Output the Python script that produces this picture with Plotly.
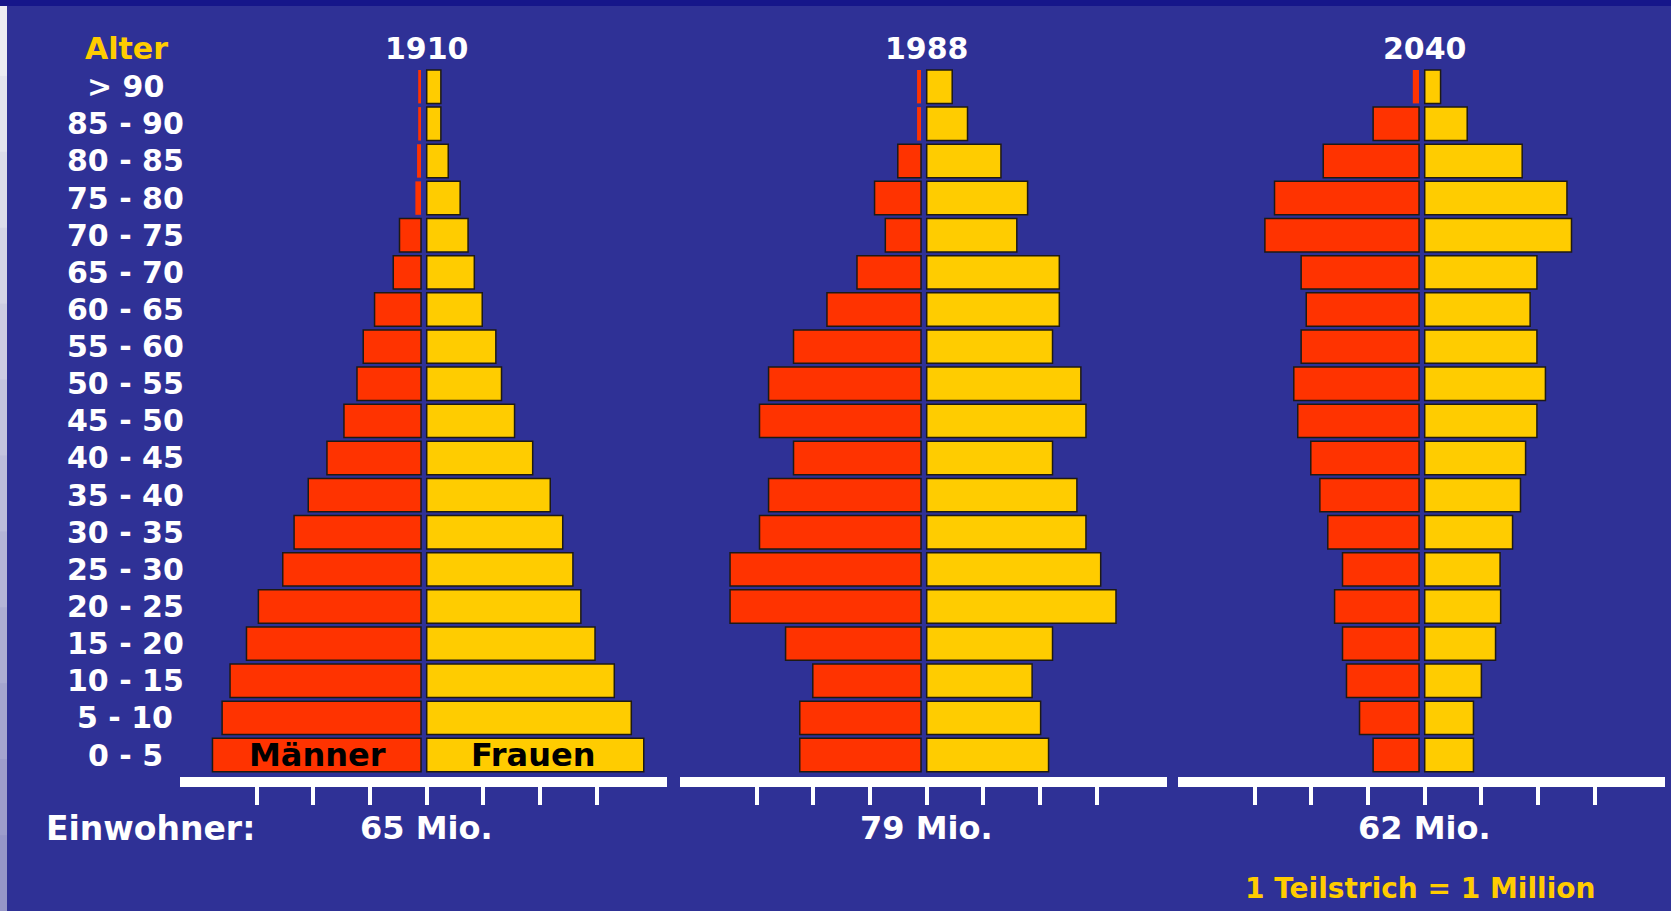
import plotly.graph_objects as go

# ---------------- data (millions of people, bottom row first) ----------------
age_groups = ["0 - 5", "5 - 10", "10 - 15", "15 - 20", "20 - 25", "25 - 30",
              "30 - 35", "35 - 40", "40 - 45", "45 - 50", "50 - 55", "55 - 60",
              "60 - 65", "65 - 70", "70 - 75", "75 - 80", "80 - 85", "85 - 90", "> 90"]

years = ["1910", "1988", "2040"]
population_labels = ["65 Mio.", "79 Mio.", "62 Mio."]

men_1910 = [3.68, 3.51, 3.37, 3.08, 2.87, 2.44, 2.24, 1.99, 1.66, 1.36,
            1.13, 1.02, 0.82, 0.49, 0.38, 0.10, 0.07, 0.05, 0.05]
women_1910 = [3.83, 3.61, 3.31, 2.97, 2.72, 2.58, 2.40, 2.18, 1.87, 1.55,
              1.32, 1.22, 0.98, 0.84, 0.73, 0.59, 0.38, 0.25, 0.25]

men_1988 = [2.14, 2.14, 1.91, 2.39, 3.37, 3.37, 2.85, 2.69, 2.25, 2.85,
            2.69, 2.25, 1.66, 1.13, 0.63, 0.82, 0.41, 0.07, 0.07]
women_1988 = [2.15, 2.01, 1.86, 2.22, 3.34, 3.07, 2.81, 2.65, 2.22, 2.81,
              2.72, 2.22, 2.34, 2.34, 1.59, 1.78, 1.31, 0.72, 0.45]

men_2040 = [0.81, 1.05, 1.28, 1.35, 1.49, 1.35, 1.61, 1.75, 1.91, 2.14,
            2.21, 2.08, 1.99, 2.08, 2.72, 2.55, 1.69, 0.81, 0.11]
women_2040 = [0.86, 0.86, 1.00, 1.25, 1.34, 1.33, 1.55, 1.69, 1.78, 1.98,
              2.13, 1.98, 1.86, 1.98, 2.59, 2.51, 1.72, 0.75, 0.28]

tick_values = [-3, -2, -1, 0, 1, 2, 3]   # 1 Teilstrich = 1 Million

men = [men_1910, men_1988, men_2040]
women = [women_1910, women_1988, women_2040]

# ---------------- styling ----------------
W, H = 1671, 911
BG = "#2F3196"
RED = "#FF3300"
YELLOW = "#FFCC00"
OUTLINE = "#1E1A14"
FONT = "DejaVu Sans"

x_domains = [[180 / W, 667 / W], [680 / W, 1167 / W], [1178 / W, 1665 / W]]
x_range = [-4.353, 4.24]
y_domain = [1 - 777 / H, 1 - 60 / H]
y_range = [-0.5925, 18.719]
male_gap = 0.1

fig = go.Figure()

for i in range(3):
    xa = "x" if i == 0 else f"x{i+1}"
    ya = "y" if i == 0 else f"y{i+1}"
    m_vals = men[i]
    w_vals = women[i]
    fig.add_trace(go.Bar(
        y=age_groups, x=[-v for v in m_vals], base=-male_gap, orientation="h",
        width=0.9, xaxis=xa, yaxis=ya,
        marker=dict(color=RED,
                    line=dict(color=OUTLINE,
                              width=[0 if v < 0.2 else 1.5 for v in m_vals])),
        showlegend=False, hoverinfo="skip"))
    fig.add_trace(go.Bar(
        y=age_groups, x=w_vals, base=0, orientation="h",
        width=0.9, xaxis=xa, yaxis=ya,
        marker=dict(color=YELLOW,
                    line=dict(color=OUTLINE,
                              width=[0 if v < 0.2 else 1.5 for v in w_vals])),
        showlegend=False, hoverinfo="skip"))

layout = dict(
    width=W, height=H, autosize=False,
    margin=dict(l=0, r=0, t=0, b=0, pad=0),
    paper_bgcolor=BG, plot_bgcolor="rgba(0,0,0,0)",
    barmode="overlay",
    showlegend=False,
)

for i in range(3):
    xkey = "xaxis" if i == 0 else f"xaxis{i+1}"
    ykey = "yaxis" if i == 0 else f"yaxis{i+1}"
    yid = "y" if i == 0 else f"y{i+1}"
    xid = "x" if i == 0 else f"x{i+1}"
    layout[xkey] = dict(
        domain=x_domains[i], range=x_range, anchor=yid,
        showline=True, linecolor="white", linewidth=10,
        ticks="outside", tickvals=tick_values, ticklen=18, tickwidth=4,
        tickcolor="white", showticklabels=False,
        showgrid=False, zeroline=False, fixedrange=True)
    layout[ykey] = dict(
        domain=y_domain, range=y_range, anchor=xid,
        type="category", categoryorder="array", categoryarray=age_groups,
        showticklabels=False, showgrid=False, zeroline=False,
        showline=False, ticks="", fixedrange=True)

fig.update_layout(**layout)

# ---------------- texts ----------------
white_font = dict(family=FONT, size=30, color="white", weight="bold")
yellow_font = dict(family=FONT, size=30, color=YELLOW, weight="bold")

ann = []
ann.append(dict(text="Alter", xref="paper", yref="paper", x=126 / W, y=1 - 48 / H,
                xanchor="center", yanchor="middle", showarrow=False, font=yellow_font))
for g in age_groups:
    ann.append(dict(text=g, xref="paper", yref="y", x=125 / W, y=g,
                    xanchor="center", yanchor="middle", showarrow=False, font=white_font))

centers = [426.7, 926.7, 1424.7]
for i in range(3):
    ann.append(dict(text=years[i], xref="paper", yref="paper", x=centers[i] / W,
                    y=1 - 48 / H, xanchor="center", yanchor="middle",
                    showarrow=False, font=white_font))
    ann.append(dict(text=population_labels[i], xref="paper", yref="paper",
                    x=centers[i] / W, y=1 - 828 / H, xanchor="center",
                    yanchor="middle", showarrow=False,
                    font=dict(family=FONT, size=32, color="white", weight="bold")))

ann.append(dict(text="Einwohner:", xref="paper", yref="paper", x=150 / W, y=1 - 828 / H,
                xanchor="center", yanchor="middle", showarrow=False,
                font=dict(family=FONT, size=33, color="white", weight="bold")))
ann.append(dict(text="1 Teilstrich = 1 Million", xref="paper", yref="paper",
                x=1420 / W, y=1 - 888 / H, xanchor="center", yanchor="middle",
                showarrow=False,
                font=dict(family=FONT, size=28, color=YELLOW, weight="bold")))

ann.append(dict(text="Männer", xref="x", yref="y", x=-1.93, y=age_groups[0],
                xanchor="center", yanchor="middle", showarrow=False,
                font=dict(family=FONT, size=32, color="black", weight="bold")))
ann.append(dict(text="Frauen", xref="x", yref="y", x=1.88, y=age_groups[0],
                xanchor="center", yanchor="middle", showarrow=False,
                font=dict(family=FONT, size=32, color="black", weight="bold")))

fig.update_layout(annotations=ann)

# ---------------- decorative frame (top band, left gradient strip) ----------------
shapes = []
n = 12
for k in range(n):
    t = k / (n - 1)
    r = int(236 - t * (236 - 150))
    g = int(236 - t * (236 - 150))
    b = int(242 - t * (242 - 200))
    shapes.append(dict(type="rect", xref="paper", yref="paper",
                       x0=0, x1=7 / W, y0=max(0, 1 - (k + 1) / n - 0.004),
                       y1=1 - k / n,
                       fillcolor=f"rgb({r},{g},{b})", line=dict(width=0), layer="above"))
shapes.append(dict(type="rect", xref="paper", yref="paper", x0=0, x1=1, y0=1 - 6 / H, y1=1,
                   fillcolor="#16168A", line=dict(width=0), layer="above"))
fig.update_layout(shapes=shapes)

fig.write_html(
    "out.html",
    config={"displayModeBar": False},
    post_script="document.body.style.margin='0';document.body.style.overflow='hidden';",
)
